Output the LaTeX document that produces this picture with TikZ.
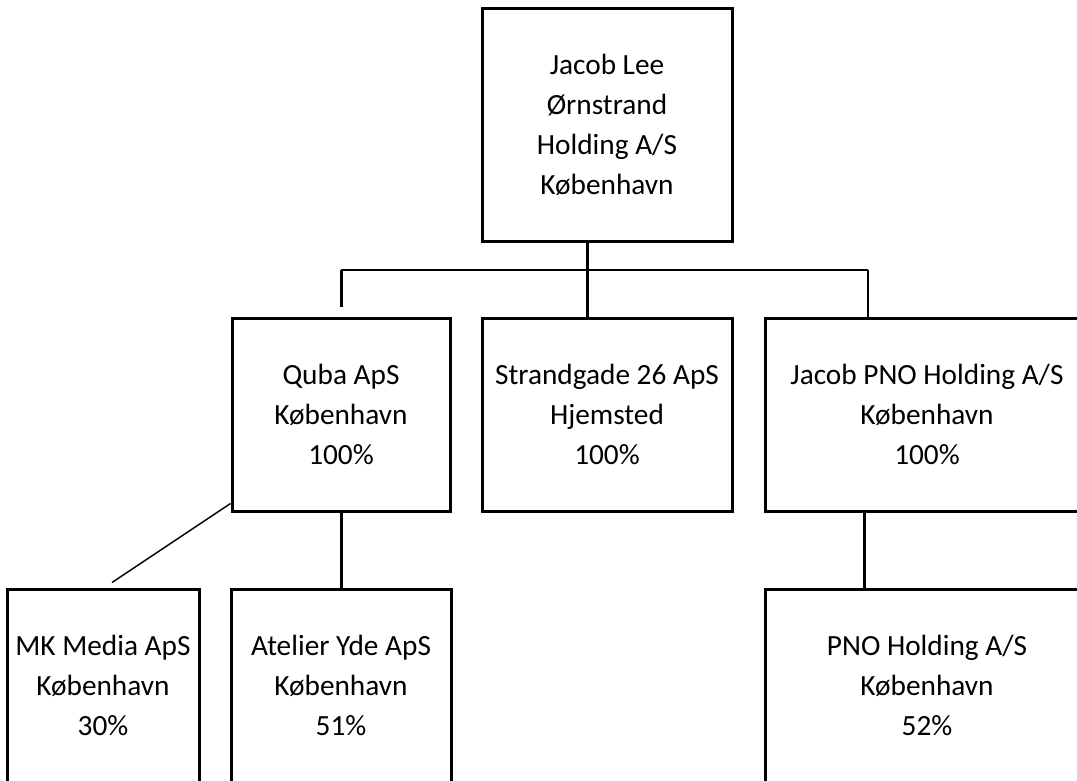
\documentclass[tikz,border=0pt]{standalone}
\usepackage{fontspec}
\setmainfont{Carlito}
\usetikzlibrary{shapes,arrows}
\tikzstyle{company} = [rectangle, draw = black, line width=3pt, align=center, inner sep=0pt, font=\fontsize{29.3}{40}\selectfont]
\tikzstyle{link} = [draw, line width=3pt]
\tikzstyle{branch} = [draw, line width=2pt]

\begin{document}
\begin{tikzpicture}[x=1pt, y=1pt]
    \useasboundingbox (0,0) rectangle (1077,-780);
    \clip (0,0) rectangle (1077,-780);

    \node (owner)   [company, minimum width=250pt, minimum height=233pt] 
                    at (607,-124.5) {Jacob Lee\\Ørnstrand\\Holding A/S\\København};
    \node (quba)    [company, minimum width=218pt, minimum height=193pt] 
                    at (341,-414.5) {Quba ApS\\København\\100\%};
    \node (strand)  [company, minimum width=250pt, minimum height=193pt,
                    below of = owner, node distance = 290pt] {Strandgade 26 ApS\\Hjemsted\\100\%};
    \node (jpno)    [company, minimum width=324pt, minimum height=193pt] 
                    at (927,-414.5) {Jacob PNO Holding A/S\\København\\100\%};
    \node (mk)      [company, minimum width=192pt, minimum height=193pt] 
                    at (103,-685.5) {MK Media ApS\\København\\30\%};
    \node (atelier) [company, minimum width=220pt, minimum height=193pt,
                    below of = quba, node distance = 271pt] {Atelier Yde ApS\\København\\51\%};
    \node (pno)     [company, minimum width=324pt, minimum height=193pt,
                    below of = jpno, node distance = 271pt] {PNO Holding A/S\\København\\52\%};

    \coordinate (hub)   at (587,-270);
    \coordinate (jdrop) at ([xshift=104pt]jpno.north west);

    \path [link]   (hub |- owner.south) -- (hub |- strand.north);
    \path [branch] (quba.north |- hub) -- (jdrop |- hub);
    \path [link, shorten >=10pt] (quba.north |- hub) -- (quba.north);
    \path [branch] (jdrop |- hub) -- (jdrop);
    \path [link]   (quba.south) -- (atelier.north);
    \path [link]   ([xshift=101pt]jpno.south west) -- ([xshift=101pt]pno.north west);
    \path [draw, line width=1.5pt] ([yshift=9pt]quba.south west) -- ([xshift=9pt,yshift=5pt]mk.north);
\end{tikzpicture}
\end{document}
